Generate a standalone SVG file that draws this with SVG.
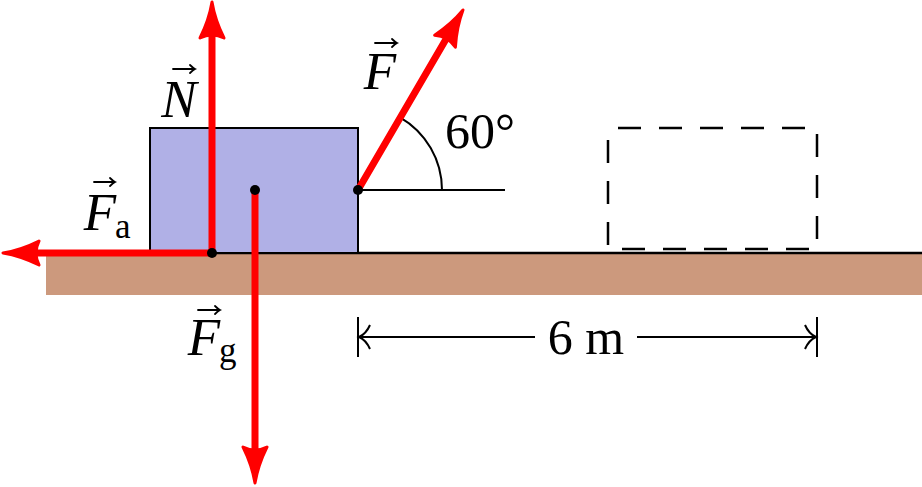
<svg xmlns="http://www.w3.org/2000/svg" width="922" height="487" viewBox="0 0 922 487">
<style>
.lbl{font-family:"Liberation Serif","Times New Roman",serif;font-size:50px;fill:#000}
.it{font-style:italic;font-size:53px}
.sub{font-size:35px}
.thin{stroke:#000;stroke-width:2;fill:none}
.vec{stroke:#000;stroke-width:1.8;fill:none;stroke-linecap:round}
.force{stroke:#ff0000;stroke-width:7;stroke-linecap:round;fill:none}
.dot{fill:#000}
</style>
<defs>
<path id="head" d="M0,0 Q-3,18 -12,36 Q0,30 12,36 Q3,18 0,0 Z" fill="#ff0000" stroke="#ff0000" stroke-width="3" stroke-linejoin="round"/>
</defs>
<g id="ground">
<rect x="46" y="253" width="876" height="42" fill="#cc997d"/>
<line x1="46" y1="253" x2="922" y2="253" stroke="#000" stroke-width="2.5"/>
</g>
<g id="block">
<rect x="150" y="128" width="208" height="125" fill="#b0b0e6" stroke="#000" stroke-width="2"/>
</g>
<g id="ghost-block">
<rect x="608" y="128" width="209" height="121" fill="none" stroke="#000" stroke-width="2.5" stroke-dasharray="23 18" stroke-dashoffset="-10"/>
</g>
<g id="angle">
<line class="thin" x1="358" y1="190" x2="505" y2="190"/>
<path class="thin" d="M442,190 A84,84 0 0,0 400,117.3"/>
<text class="lbl" x="445" y="148">60°</text>
</g>
<g id="dimension">
<line class="thin" x1="358" y1="317" x2="358" y2="357"/>
<line class="thin" x1="817" y1="317" x2="817" y2="357"/>
<line class="thin" x1="358" y1="337" x2="535" y2="337"/>
<line class="thin" x1="637" y1="337" x2="817" y2="337"/>
<path class="thin" d="M370,325 Q366,334 359,337 Q366,340 370,349"/>
<path class="thin" d="M805,325 Q809,334 816,337 Q809,340 805,349"/>
<text class="lbl" x="586" y="354" text-anchor="middle">6 m</text>
</g>
<g id="connectors">
<g id="force-N">
<line class="force" x1="212" y1="253" x2="212" y2="30"/>
<use href="#head" transform="translate(212,2)"/>
</g>
<g id="force-Fa">
<line class="force" x1="212" y1="253" x2="30" y2="253"/>
<use href="#head" transform="translate(3,253) rotate(-90)"/>
</g>
<g id="force-Fg">
<line class="force" x1="255" y1="190" x2="255" y2="455"/>
<use href="#head" transform="translate(255,483) rotate(180)"/>
</g>
<g id="force-F">
<line class="force" x1="358" y1="190" x2="449" y2="34"/>
<use href="#head" transform="translate(463,10) rotate(30)"/>
</g>
</g>
<g id="points">
<circle class="dot" cx="212" cy="253" r="5"/>
<circle class="dot" cx="255" cy="190" r="5"/>
<circle class="dot" cx="358" cy="190" r="5"/>
</g>
<g id="label-N">
<text class="lbl it" x="179" y="117" text-anchor="middle">N</text>
<path class="vec" d="M173,69 H195 M190,65 Q193,68 195,69 Q193,70 190,73"/>
</g>
<g id="label-F">
<text class="lbl it" x="380" y="89" text-anchor="middle">F</text>
<path class="vec" d="M375,43 H397 M392,39 Q395,42 397,43 Q395,44 392,47"/>
</g>
<g id="label-Fa">
<text class="lbl it" x="100" y="230" text-anchor="middle">F</text>
<text class="lbl sub" x="115" y="238">a</text>
<path class="vec" d="M94,182 H115 M110,178 Q113,181 115,182 Q113,183 110,186"/>
</g>
<g id="label-Fg">
<text class="lbl it" x="204" y="355" text-anchor="middle">F</text>
<text class="lbl sub" x="219" y="362">g</text>
<path class="vec" d="M198,310 H220 M215,306 Q218,309 220,310 Q218,311 215,314"/>
</g>
</svg>
